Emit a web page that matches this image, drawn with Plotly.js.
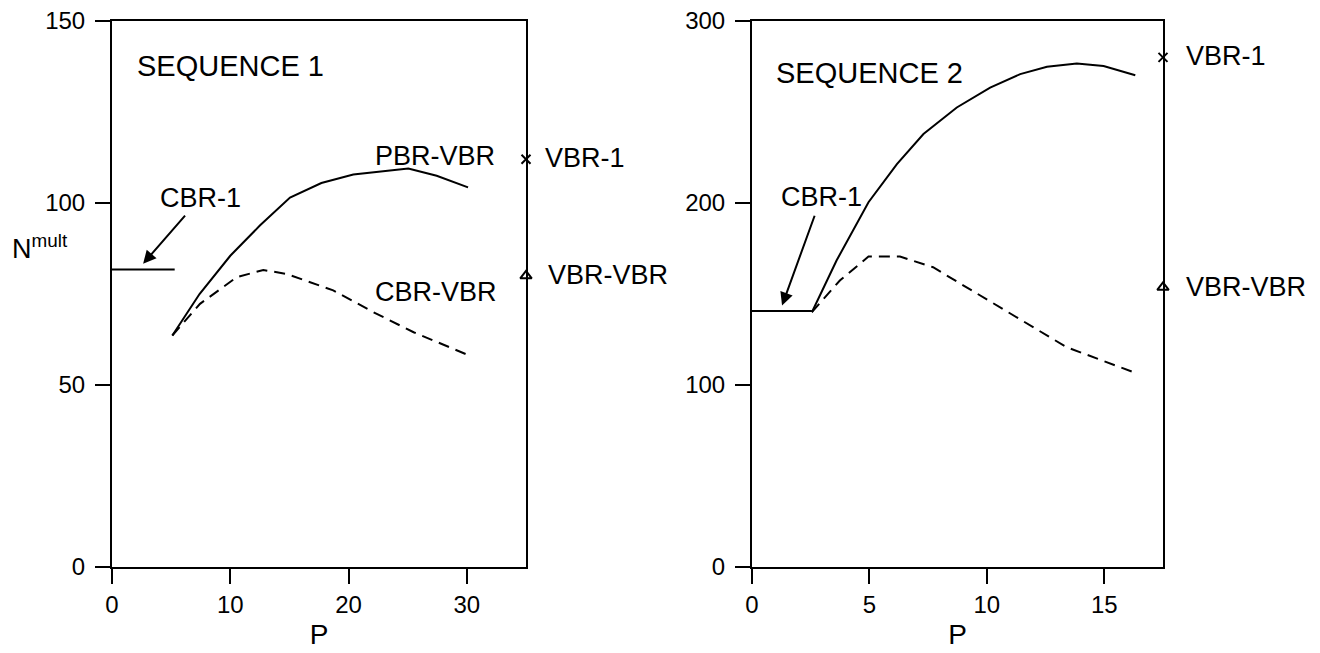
<!DOCTYPE html>
<html>
<head>
<meta charset="utf-8">
<script src="https://cdn.plot.ly/plotly-3.0.1.min.js"></script>
<style>html,body{margin:0;padding:0;background:#fff;}#chart{width:1320px;height:653px;}</style>
</head>
<body>
<div id="chart"></div>
<script>
// ---- Sequence 1 data ----
const seq1PbrP = [5.1, 7.4, 10.0, 12.5, 15.05, 17.7, 20.4, 25.05, 27.45, 30.1];
const seq1PbrN = [63.6, 75.0, 85.5, 93.8, 101.5, 105.5, 107.8, 109.5, 107.5, 104.3];
const seq1CbrP = [5.1, 7.44, 10.54, 12.79, 14.77, 18.7, 22.1, 25.5, 29.98];
const seq1CbrN = [63.6, 72.3, 79.6, 81.6, 80.5, 76.0, 70.0, 64.5, 58.4];
const seq1Cbr1P = [0, 5.3];
const seq1Cbr1N = [81.7, 81.7];
const seq1RefP = [35];
const seq1Vbr1N = [112];
const seq1VbrVbrN = [80];

// ---- Sequence 2 data ----
const seq2PbrP = [2.55, 3.6, 4.96, 6.17, 7.3, 8.72, 10.14, 11.42, 12.56, 13.83, 14.97, 16.32];
const seq2PbrN = [140, 168.4, 200.4, 221.4, 237.9, 252.5, 263.4, 270.8, 274.8, 276.6, 275.3, 270.2];
const seq2CbrP = [2.55, 3.74, 4.96, 6.3, 7.71, 9.14, 10.55, 11.97, 13.39, 16.23];
const seq2CbrN = [140, 157.4, 170.6, 170.6, 164.7, 153.7, 142.8, 131.8, 120.8, 107.1];
const seq2Cbr1P = [0, 2.55];
const seq2Cbr1N = [140.6, 140.6];
const seq2RefP = [17.5];
const seq2Vbr1N = [280];
const seq2VbrVbrN = [153.7];

const xTicks1 = [0, 10, 20, 30];
const yTicks1 = [0, 50, 100, 150];
const xTicks2 = [0, 5, 10, 15];
const yTicks2 = [0, 100, 200, 300];

const FONT = 'Liberation Sans, Arial, Helvetica, sans-serif';
const solid = {color: '#000', width: 2};
const dashed = {color: '#000', width: 2, dash: '11px,7px'};
const xMarker = {symbol: 'x-thin-open', size: 9, color: '#000', line: {color: '#000', width: 2}};
const triMarker = {symbol: 'triangle-up-open', size: 10, color: '#000', line: {color: '#000', width: 2}};

const traces = [
  {x: seq1PbrP, y: seq1PbrN, mode: 'lines', line: solid, xaxis: 'x', yaxis: 'y'},
  {x: seq1CbrP, y: seq1CbrN, mode: 'lines', line: dashed, xaxis: 'x', yaxis: 'y'},
  {x: seq1Cbr1P, y: seq1Cbr1N, mode: 'lines', line: solid, xaxis: 'x', yaxis: 'y', cliponaxis: false},
  {x: seq1RefP, y: seq1Vbr1N, mode: 'markers', marker: xMarker, xaxis: 'x', yaxis: 'y', cliponaxis: false},
  {x: seq1RefP, y: seq1VbrVbrN, mode: 'markers', marker: triMarker, xaxis: 'x', yaxis: 'y', cliponaxis: false},

  {x: seq2PbrP, y: seq2PbrN, mode: 'lines', line: solid, xaxis: 'x2', yaxis: 'y2'},
  {x: seq2CbrP, y: seq2CbrN, mode: 'lines', line: dashed, xaxis: 'x2', yaxis: 'y2'},
  {x: seq2Cbr1P, y: seq2Cbr1N, mode: 'lines', line: solid, xaxis: 'x2', yaxis: 'y2', cliponaxis: false},
  {x: seq2RefP, y: seq2Vbr1N, mode: 'markers', marker: xMarker, xaxis: 'x2', yaxis: 'y2', cliponaxis: false},
  {x: seq2RefP, y: seq2VbrVbrN, mode: 'markers', marker: triMarker, xaxis: 'x2', yaxis: 'y2', cliponaxis: false}
];

function axisBase(extra) {
  return Object.assign({
    showline: true, linecolor: '#000', linewidth: 2, mirror: true,
    ticks: 'outside', ticklen: 15, tickwidth: 2, tickcolor: '#000',
    showgrid: false, zeroline: false, fixedrange: true,
    tickfont: {family: FONT, size: 24, color: '#000'}
  }, extra);
}

function lab(text, x, y, xref, yref, size) {
  return {text: text, x: x, y: y, xref: xref, yref: yref, xanchor: 'left', yanchor: 'middle',
          showarrow: false, font: {family: FONT, size: size || 27, color: '#000'}};
}
// label drawn at (tx, ty) with an arrow pointing to (hx, hy)
function arrowLabel(text, hx, hy, tx, ty, xref, yref) {
  return {text: text, x: hx, y: hy, ax: tx, ay: ty, xref: xref, yref: yref, axref: xref, ayref: yref,
          showarrow: true, arrowhead: 2, arrowsize: 1.3, arrowwidth: 2, arrowcolor: '#000',
          startstandoff: 2, font: {family: FONT, size: 27, color: '#000'}};
}

const layout = {
  width: 1320, height: 653,
  margin: {l: 0, r: 0, t: 0, b: 0},
  paper_bgcolor: '#fff', plot_bgcolor: '#fff',
  showlegend: false,
  font: {family: FONT, color: '#000'},
  xaxis: axisBase({domain: [112/1320, 526/1320], range: [0, 35], tickvals: xTicks1, anchor: 'y',
    title: {text: 'P', font: {family: FONT, size: 28, color: '#000'}, standoff: 8}}),
  yaxis: axisBase({domain: [86/653, 632/653], range: [0, 150], tickvals: yTicks1, anchor: 'x', ticklabelstandoff: 5}),
  xaxis2: axisBase({domain: [752/1320, 1163/1320], range: [0, 17.5], tickvals: xTicks2, anchor: 'y2',
    title: {text: 'P', font: {family: FONT, size: 28, color: '#000'}, standoff: 8}}),
  yaxis2: axisBase({domain: [86/653, 632/653], range: [0, 300], tickvals: yTicks2, anchor: 'x2', ticklabelstandoff: 5}),
  annotations: [
    lab('SEQUENCE 1', 1.94, 137.6, 'x', 'y', 29),
    lab('PBR-VBR', 22.1, 113, 'x', 'y'),
    lab('CBR-VBR', 22.1, 75.5, 'x', 'y'),
    arrowLabel('CBR-1', 2.63, 83.3, 7.5, 101.5, 'x', 'y'),
    lab('VBR-1', 543/1320, 112.5, 'paper', 'y'),
    lab('VBR-VBR', 546/1320, 80.3, 'paper', 'y'),
    {text: 'N<sup>mult</sup>', x: 10/1320, y: 88, xref: 'paper', yref: 'y', xanchor: 'left', yanchor: 'middle',
     showarrow: false, font: {family: FONT, size: 27, color: '#000'}},

    lab('SEQUENCE 2', 0.92, 271.6, 'x2', 'y2', 29),
    arrowLabel('CBR-1', 1.28, 143.7, 2.95, 203.1, 'x2', 'y2'),
    lab('VBR-1', 1184/1320, 280.8, 'paper', 'y2'),
    lab('VBR-VBR', 1184/1320, 153.7, 'paper', 'y2')
  ]
};

Plotly.newPlot('chart', traces, layout, {displayModeBar: false, staticPlot: true});
</script>
</body>
</html>
